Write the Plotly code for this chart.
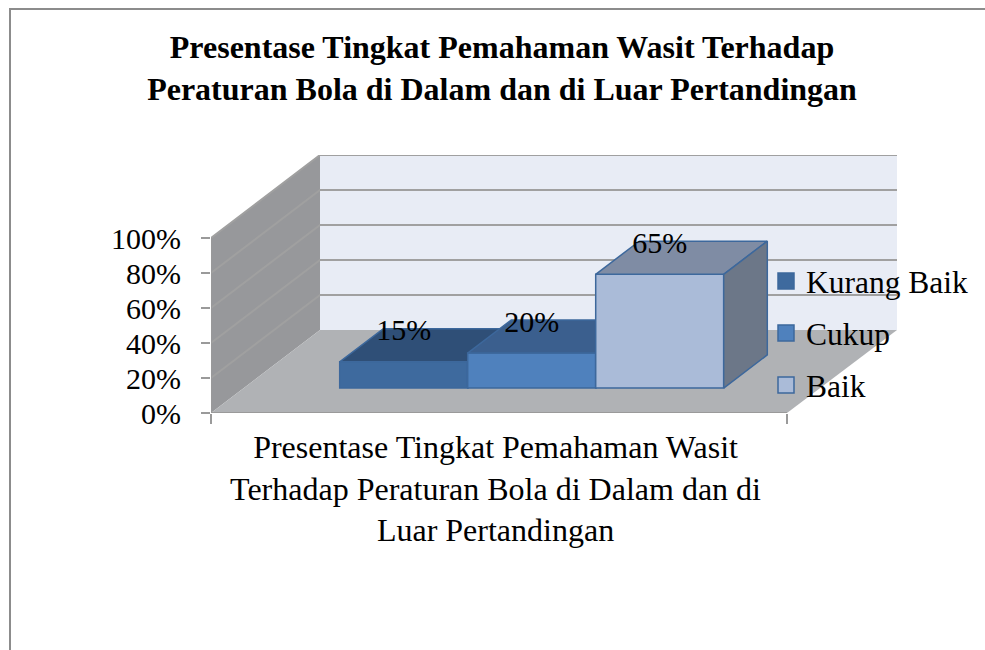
import plotly.graph_objects as go

# Data
series_names = ["Kurang Baik", "Cukup", "Baik"]
series_values = [15, 20, 65]
value_labels = ["15%", "20%", "65%"]
y_ticks = [0, 20, 40, 60, 80, 100]
y_tick_labels = ["0%", "20%", "40%", "60%", "80%", "100%"]
category_label = "Presentase Tingkat Pemahaman Wasit<br>Terhadap Peraturan Bola di Dalam dan di<br>Luar Pertandingan"
title_text = "Presentase Tingkat Pemahaman Wasit Terhadap<br>Peraturan Bola di Dalam dan di Luar Pertandingan"

# Styles
front_colors = ["#3e6a9e", "#4f81bd", "#aabbd8"]
top_colors = ["#2f4f77", "#3b5f8e", "#7f8ca4"]
side_colors = ["#2b4665", "#36557c", "#6c7788"]
edge_color = "#3d689c"
FONT = "Liberation Serif"
W, H = 985, 650

# Plot box in pixels
L, R, T, B = 211, 897, 155, 413
PX_PER_X = 576.0
PX_PER_PCT = 1.75
DX = 109 / PX_PER_X      # depth of the floor, in x units
DY = 83 / PX_PER_PCT     # depth of the floor, in value units
GAP = 1.5                # gap width / gap depth of the 3-D chart
bar_w = 1 / (len(series_values) + GAP)
d0 = (GAP / 2) / (1 + GAP)
d1 = d0 + 1 / (1 + GAP)
x_max = (R - L) / PX_PER_X
y_max = (B - T) / PX_PER_PCT


def pr(x, d, v):
    return x + d * DX, v + d * DY


def path(*pts):
    return "M" + "L".join(f"{a},{b}" for a, b in pts) + "Z"


def poly(pts, fill, axis):
    xs = [p[0] for p in pts] + [pts[0][0]]
    ys = [p[1] for p in pts] + [pts[0][1]]
    return go.Scatter(x=xs, y=ys, mode="lines", fill="toself", fillcolor=fill,
                      line=dict(color=edge_color, width=1.5), showlegend=False,
                      hoverinfo="skip", xaxis="x" + axis, yaxis="y" + axis)


fig = go.Figure()

for i, (name, val) in enumerate(zip(series_names, series_values)):
    ax = "" if i == 0 else str(i + 1)
    x0 = (GAP / 2 + i) * bar_w
    x1 = x0 + bar_w
    base = pr(x0, d0, 0)
    fig.add_trace(go.Bar(x=[base[0] + bar_w / 2], y=[val], base=[base[1]], width=[bar_w],
                         marker=dict(color=front_colors[i], line=dict(color=edge_color, width=1.5)),
                         name=name, showlegend=False, legendgroup=name,
                         xaxis="x" + ax, yaxis="y" + ax))
    fig.add_trace(poly([pr(x0, d0, val), pr(x1, d0, val), pr(x1, d1, val), pr(x0, d1, val)], top_colors[i], ax))
    fig.add_trace(poly([pr(x1, d0, 0), pr(x1, d1, 0), pr(x1, d1, val), pr(x1, d0, val)], side_colors[i], ax))

for i, name in enumerate(series_names):
    fig.add_trace(go.Scatter(x=[None], y=[None], mode="markers", name=name, legendgroup=name,
                             marker=dict(symbol="square", size=16, color=front_colors[i],
                                         line=dict(color=edge_color, width=1.5)),
                             xaxis="x3", yaxis="y3"))

# Data labels
lab_x = [(GAP / 2 + i + 0.5) * bar_w + d0 * DX for i in range(len(series_values))]
lab_y = [v + d0 * DY + 29 / PX_PER_PCT for v in series_values]
fig.add_trace(go.Scatter(x=lab_x, y=lab_y, mode="text", text=value_labels,
                         textfont=dict(family=FONT, size=30, color="#000"),
                         textposition="middle center", showlegend=False, hoverinfo="skip",
                         xaxis="x3", yaxis="y3"))

# Walls, floor and gridlines
shapes = [
    dict(type="path", path=path(pr(0, 0, 0), pr(0, 1, 0), pr(0, 1, 100), pr(0, 0, 100)),
         fillcolor="#97989b", line=dict(width=0), layer="below", xref="x", yref="y"),
    dict(type="path", path=path(pr(0, 1, 0), (x_max, DY), (x_max, DY + 100), pr(0, 1, 100)),
         fillcolor="#e8ecf5", line=dict(width=0), layer="below", xref="x", yref="y"),
    dict(type="path", path=path(pr(0, 0, 0), pr(1, 0, 0), (x_max, DY), pr(0, 1, 0)),
         fillcolor="#b0b2b5", line=dict(width=0), layer="below", xref="x", yref="y"),
]
for v in y_ticks[1:]:
    a, b, c = pr(0, 0, v), pr(0, 1, v), (x_max, v + DY)
    shapes.append(dict(type="path", path=f"M{a[0]},{a[1]}L{b[0]},{b[1]}L{c[0]},{c[1]}",
                       line=dict(color="#a0a0a0", width=2), layer="below", xref="x", yref="y"))
shapes.append(dict(type="line", x0=0, x1=1, y0=0, y1=0, xref="x", yref="y", layer="below",
                   line=dict(color="#9a9a9a", width=2)))
shapes.append(dict(type="line", x0=0, x1=0, y0=0, y1=100, xref="x", yref="y", layer="below",
                   line=dict(color="#9a9a9a", width=1.5)))


def px(v):
    return (v - L) / (R - L)


def py(v):
    return (B - v) / (B - T)


# Outer chart border (left and top only are in view)
shapes.append(dict(type="path", xref="paper", yref="paper",
                   path=f"M{px(10)},{py(650)}L{px(10)},{py(9)}L{px(985)},{py(9)}",
                   line=dict(color="#8c8c8c", width=2)))

fig.update_layout(
    width=W, height=H, autosize=False, showlegend=True, barmode="overlay",
    margin=dict(l=L, r=W - R, t=T, b=H - B, pad=0, autoexpand=False),
    paper_bgcolor="white", plot_bgcolor="rgba(0,0,0,0)",
    font=dict(family=FONT, size=30, color="#000"),
    title=dict(text="<b>" + title_text + "</b>", font=dict(family=FONT, size=32, color="#000"),
               x=502 / W, xanchor="center", y=1 - 58 / H, yanchor="middle"),
    shapes=shapes,
    legend=dict(x=px(766), y=py(254), xanchor="left", yanchor="top", bgcolor="rgba(0,0,0,0)",
                font=dict(family=FONT, size=31.5), tracegroupgap=8, itemwidth=30, traceorder="grouped"),
    xaxis=dict(range=[0, x_max], showgrid=False, zeroline=False, showline=False, ticks="",
               tickmode="array", tickvals=[0.494], ticktext=[category_label], tickangle=0,
               tickfont=dict(family=FONT, size=32), ticklen=0, ticklabelstandoff=12,
               minor=dict(tickmode="array", tickvals=[0, 1], ticks="outside", ticklen=10, tickwidth=1.5, tickcolor="#9a9a9a")),
    yaxis=dict(range=[0, y_max], showgrid=False, zeroline=False, showline=False,
               tickmode="array", tickvals=y_ticks, ticktext=y_tick_labels, ticks="outside", ticklen=9,
               tickwidth=1.5, tickcolor="#9a9a9a", tickfont=dict(family=FONT, size=30), ticklabelstandoff=14),
)
for n in ("2", "3"):
    fig.update_layout({
        "xaxis" + n: dict(overlaying="x", range=[0, x_max], visible=False, fixedrange=True),
        "yaxis" + n: dict(overlaying="y", range=[0, y_max], visible=False, fixedrange=True),
    })

fig.write_html("out.html", config={"displayModeBar": False},
               post_script="document.body.style.margin='0';")
